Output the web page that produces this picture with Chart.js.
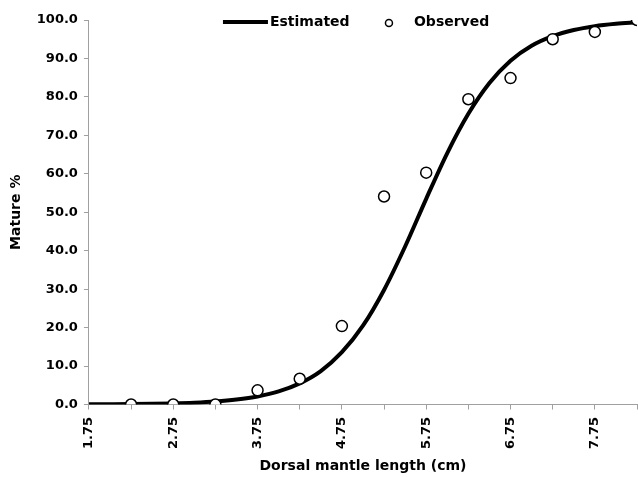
<!DOCTYPE html>
<html>
<head>
<meta charset="utf-8">
<script src="https://cdn.jsdelivr.net/npm/chart.js@4/dist/chart.umd.min.js"></script>
<style>
html,body{margin:0;padding:0;background:#fff;}
#wrap{position:relative;width:638px;height:477px;}
</style>
</head>
<body>
<div id="wrap"><canvas id="c" width="638" height="477"></canvas></div>
<script>
// Observed proportions mature by dorsal mantle length class
const observedLength = [2.25, 2.75, 3.25, 3.75, 4.25, 4.75, 5.25, 5.75, 6.25, 6.75, 7.25, 7.75, 8.25];
const observedMature = [0.0, 0.0, 0.0, 3.7, 6.7, 20.4, 54.1, 60.3, 79.4, 84.9, 95.0, 96.9, 100.0];

// Estimated (fitted) curve
const estimatedLength = [1.75, 2.0, 2.25, 2.5, 2.75, 3.0, 3.25, 3.5, 3.75, 4.0, 4.25, 4.5, 4.75, 5.0, 5.25, 5.5, 5.75, 6.0, 6.25, 6.5, 6.75, 7.0, 7.25, 7.5, 7.75, 8.0, 8.25];
const estimatedMature = [0.04, 0.07, 0.11, 0.18, 0.29, 0.48, 0.79, 1.3, 2.1, 3.4, 5.5, 8.7, 13.6, 20.5, 29.8, 41.1, 53.5, 65.4, 75.6, 83.6, 89.4, 93.3, 95.8, 97.4, 98.4, 99.0, 99.4];

const xLabels = ['1.75', '2.75', '3.75', '4.75', '5.75', '6.75', '7.75'];
const seriesNames = ['Estimated', 'Observed'];
const xTitle = 'Dorsal mantle length (cm)';
const yTitle = 'Mature %';

const FONT = "'DejaVu Sans', 'Liberation Sans', Arial, sans-serif";

const legendPlugin = {
  id: 'customLegend',
  afterDatasetsDraw(chart) {
    const ctx = chart.ctx;
    const ca = chart.chartArea;
    const cx = (ca.left + ca.right) / 2;
    const y = ca.top + 2;
    ctx.save();
    ctx.font = "bold 14px " + FONT;
    ctx.textBaseline = 'middle';
    ctx.fillStyle = '#000';
    // Estimated line symbol
    const x0 = cx - 140;
    ctx.strokeStyle = '#000';
    ctx.lineWidth = 4;
    ctx.lineCap = 'butt';
    ctx.beginPath();
    ctx.moveTo(x0, y);
    ctx.lineTo(x0 + 45, y);
    ctx.stroke();
    ctx.fillText(seriesNames[0], x0 + 47, y);
    // Observed circle symbol
    const x1 = cx + 26;
    ctx.lineWidth = 1.5;
    ctx.fillStyle = '#fff';
    ctx.beginPath();
    ctx.arc(x1, y + 1, 3.5, 0, Math.PI * 2);
    ctx.fill();
    ctx.stroke();
    ctx.fillStyle = '#000';
    ctx.fillText(seriesNames[1], x1 + 25, y);
    ctx.restore();
  }
};

new Chart(document.getElementById('c'), {
  type: 'scatter',
  data: {
    datasets: [
      {
        label: seriesNames[1],
        data: observedLength.map((x, i) => ({x: x, y: observedMature[i]})),
        showLine: false,
        pointRadius: 5.5,
        pointHoverRadius: 5.5,
        pointBackgroundColor: '#fff',
        pointBorderColor: '#000',
        pointBorderWidth: 1.5,
        order: 0
      },
      {
        label: seriesNames[0],
        data: estimatedLength.map((x, i) => ({x: x, y: estimatedMature[i]})),
        showLine: true,
        borderColor: '#000',
        borderWidth: 4,
        cubicInterpolationMode: 'monotone',
        pointRadius: 0,
        pointHoverRadius: 0,
        order: 1
      }
    ]
  },
  options: {
    responsive: false,
    animation: false,
    events: [],
    layout: { autoPadding: false, padding: { top: 20, right: 1, left: 8, bottom: 2.6 } },
    plugins: {
      legend: { display: false },
      tooltip: { enabled: false }
    },
    scales: {
      x: {
        type: 'linear',
        min: 1.75,
        max: 8.25,
        afterFit: function (scale) { scale.paddingRight = 0; },
        ticks: {
          stepSize: 0.5,
          minRotation: 90,
          maxRotation: 90,
          padding: 7.5,
          color: '#000',
          font: { family: FONT, size: 13, weight: 'bold' },
          callback: function (v) {
            const s = Number(v).toFixed(2);
            return xLabels.includes(s) ? s : '';
          }
        },
        grid: {
          display: true,
          drawOnChartArea: false,
          drawTicks: true,
          tickLength: 5,
          color: '#a0a0a0'
        },
        border: { display: true, color: '#a0a0a0', width: 1 },
        title: {
          display: true,
          text: xTitle,
          color: '#000',
          font: { family: FONT, size: 14, weight: 'bold' },
          padding: { top: 1, bottom: 0 }
        }
      },
      y: {
        min: 0,
        max: 100,
        ticks: {
          stepSize: 10,
          padding: 6,
          color: '#000',
          font: { family: FONT, size: 13, weight: 'bold' },
          callback: function (v) { return Number(v).toFixed(1); }
        },
        grid: {
          display: true,
          drawOnChartArea: false,
          drawTicks: true,
          tickLength: 5,
          color: '#a0a0a0'
        },
        border: { display: true, color: '#a0a0a0', width: 1 },
        title: {
          display: true,
          text: yTitle,
          color: '#000',
          font: { family: FONT, size: 14, weight: 'bold' },
          padding: { top: 0, bottom: 6 }
        }
      }
    }
  },
  plugins: [legendPlugin]
});
</script>
</body>
</html>
